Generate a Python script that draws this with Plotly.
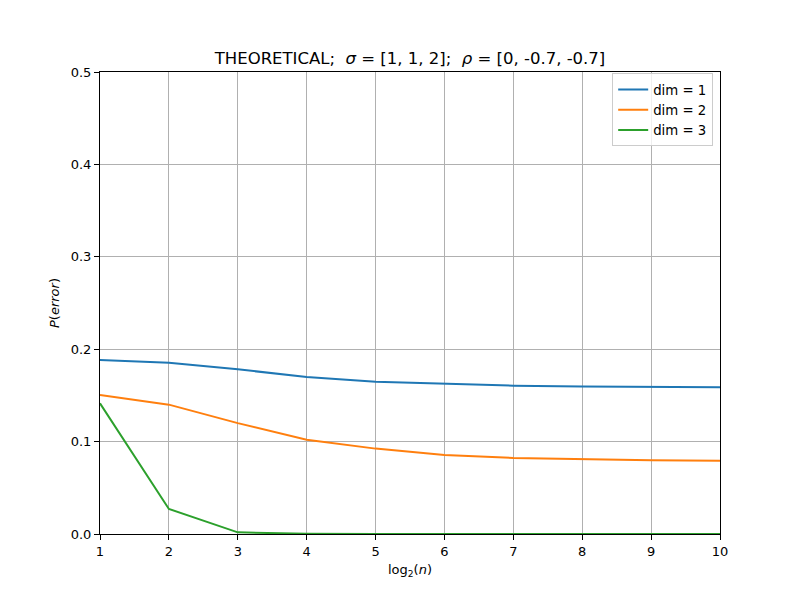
import plotly.graph_objects as go

x_log2n = [1, 2, 3, 4, 5, 6, 7, 8, 9, 10]
dim1 = [0.1883, 0.1854, 0.1782, 0.1700, 0.1649, 0.1623, 0.1605, 0.1595, 0.1593, 0.1588]
dim2 = [0.1504, 0.1400, 0.1200, 0.1020, 0.0924, 0.0855, 0.0823, 0.0808, 0.0797, 0.0794]
dim3 = [0.1414, 0.0271, 0.0018, 0.0002, 0.0, 0.0, 0.0, 0.0, 0.0, 0.0]
names = ["dim = 1", "dim = 2", "dim = 3"]
colors = ["#1f77b4", "#ff7f0e", "#2ca02c"]

fig = go.Figure()
for ys, nm, c in zip([dim1, dim2, dim3], names, colors):
    fig.add_trace(go.Scatter(x=x_log2n, y=ys, mode="lines", name=nm,
                             line=dict(color=c, width=2)))

font = "DejaVu Sans"
axis_common = dict(showline=True, linecolor="black", linewidth=1, mirror=True,
                   ticks="outside", ticklen=5, tickcolor="black", tickwidth=1,
                   showgrid=True, gridcolor="#b0b0b0", gridwidth=1, zeroline=False,
                   tickfont=dict(family=font, size=13, color="black"))

fig.update_layout(
    width=800, height=600,
    margin=dict(l=100, r=80, t=72, b=66),
    paper_bgcolor="white", plot_bgcolor="white",
    font=dict(family=font, color="black"),
    title=dict(text="THEORETICAL;  <i>σ</i> = [1, 1, 2];  <i>ρ</i> = [0, -0.7, -0.7]",
               x=0.5125, xanchor="center", y=1 - 58/600, yanchor="middle",
               font=dict(family=font, size=16.5, color="black")),
    xaxis=dict(range=[1, 10], tickvals=list(range(1, 11)),
               title=dict(text="log<sub>2</sub>(<i>n</i>)", font=dict(family=font, size=13), standoff=7),
               **axis_common),
    yaxis=dict(range=[0, 0.5], tickvals=[0, 0.1, 0.2, 0.3, 0.4, 0.5], tickformat=".1f",
               title=dict(text="<i>P</i>(<i>error</i>)", font=dict(family=font, size=13), standoff=8),
               **axis_common),
    legend=dict(x=0.989, y=0.997, xanchor="right", yanchor="top",
                bgcolor="rgba(255,255,255,0.8)", bordercolor="#cccccc", borderwidth=1,
                tracegroupgap=0, itemwidth=30,
                font=dict(family=font, size=13.3, color="black")),
    showlegend=True,
)

fig.write_html("out.html")
